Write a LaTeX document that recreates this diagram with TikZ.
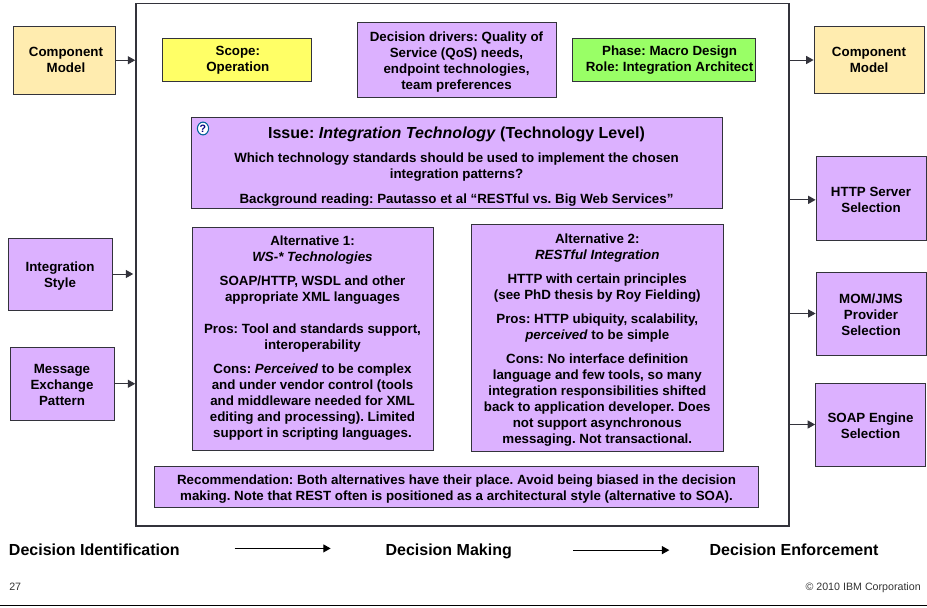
\documentclass[tikz,border=0pt]{standalone}
\usepackage{fontspec}
\setmainfont{Liberation Sans}
\usetikzlibrary{arrows.meta,shapes.geometric}
\frenchspacing
\definecolor{purp}{HTML}{DCB1FF}
\definecolor{yell}{HTML}{FFFF66}
\definecolor{gren}{HTML}{99FF66}
\definecolor{tann}{HTML}{FFECAF}
\definecolor{edge}{HTML}{33333B}
\newcommand{\bx}[7]{%
  \pgfmathsetmacro{\bxCx}{(#3+#5)/2}\pgfmathsetmacro{\bxCy}{(#4+#6)/2}%
  \pgfmathsetmacro{\bxW}{0.75*(#5-#3)}\pgfmathsetmacro{\bxH}{0.75*(#6-#4)}%
  \node[boxbase,#2,minimum width=\bxW pt,minimum height=\bxH pt] (#1) at (\bxCx,\bxCy) {#7};}
\newcommand{\dn}[1]{\rule{0pt}{#1}}
\tikzset{
  boxbase/.style={draw=edge,line width=0.65pt,inner sep=0pt,align=center,
    font=\fontsize{10}{12}\selectfont\bfseries},
  purplebox/.style={fill=purp},
  yellowbox/.style={fill=yell},
  greenbox/.style={fill=gren},
  tanbox/.style={fill=tann},
  frameline/.style={draw=edge,line width=1.2pt,fill=none},
  flow/.style={draw=edge,line width=0.75pt,-{Triangle[length=5.5pt,width=6pt]}},
  steplabel/.style={anchor=base west,inner sep=0pt,text depth=0pt,font=\fontsize{12}{14}\selectfont\bfseries},
  foot/.style={inner sep=0pt,font=\fontsize{8}{9}\selectfont,text=black!80},
  helpicon/.style={ellipse,draw=blue!35!cyan!60!black,line width=0.8pt,fill=white,inner sep=0pt,
    minimum width=8.4pt,minimum height=9.6pt,font=\fontsize{8}{8}\selectfont\bfseries,text=blue!50!black},
}
\begin{document}
\begin{tikzpicture}[x=0.75pt,y=-0.75pt]
\useasboundingbox (0,0) rectangle (927,607);
\bx{frame}{frameline}{136}{3.5}{788.7}{525.7}{}
\bx{cmin}{tanbox}{13}{26.5}{115}{94}{\hspace*{3pt}Component\\\hspace*{3pt}Model}
\bx{style}{purplebox}{8}{238}{112}{310}{\dn{10.3pt}Integration\\Style}
\bx{mep}{purplebox}{10}{347.5}{114}{420}{\dn{9pt}Message\\Exchange\\Pattern}
\bx{scope}{yellowbox}{162}{38.5}{311}{81}{\hspace*{2pt}Scope:\\\hspace*{2pt}Operation}
\bx{drivers}{purplebox}{357}{22.5}{556}{97}{\dn{10.3pt}Decision drivers: Quality of\\Service (QoS) needs,\\endpoint technologies,\\team preferences}
\bx{phase}{greenbox}{572.7}{38.5}{755.7}{81}{\hspace*{8pt}Phase: Macro Design\\\hspace*{8pt}Role: Integration Architect}
\bx{issue}{purplebox}{191}{117}{722}{208.5}{{\fontsize{12}{14}\selectfont\dn{14.5pt}Issue: \textit{Integration Technology} (Technology Level)}\\[5.75pt]Which technology standards should be used to implement the chosen\\integration patterns?\\[6.75pt]Background reading: Pautasso et al “RESTful vs. Big Web Services”}
\bx{altone}{purplebox}{192}{227}{433}{450}{Alternative 1:\\\textit{WS-* Technologies}\\[6pt]SOAP/HTTP, WSDL and other\\appropriate XML languages\\[12pt]Pros: Tool and standards support,\\interoperability\\[6pt]Cons: \textit{Perceived} to be complex\\and under vendor control (tools\\and middleware needed for XML\\editing and processing). Limited\\support in scripting languages.}
\bx{alttwo}{purplebox}{471}{224}{723.5}{451.5}{\dn{10.3pt}Alternative 2:\\\textit{RESTful Integration}\\[6pt]HTTP with certain principles\\(see PhD thesis by Roy Fielding)\\[6pt]Pros: HTTP ubiquity, scalability,\\\textit{perceived} to be simple\\[6pt]Cons: No interface definition\\language and few tools, so many\\integration responsibilities shifted\\back to application developer. Does\\not support asynchronous\\messaging. Not transactional.}
\bx{rec}{purplebox}{154.5}{466}{758.5}{507.5}{\dn{10.3pt}Recommendation: Both alternatives have their place. Avoid being biased in the decision\\making. Note that REST often is positioned as a architectural style (alternative to SOA).}
\bx{cmout}{tanbox}{814}{26.5}{924}{93.5}{Component\\Model}
\bx{http}{purplebox}{816}{156.5}{926}{240}{\dn{9pt}HTTP Server\\Selection}
\bx{mom}{purplebox}{816}{272}{926}{355}{\dn{9pt}MOM/JMS\\Provider\\Selection}
\bx{soap}{purplebox}{815.5}{383}{925.5}{466}{\dn{9pt}SOAP Engine\\Selection}
\node[helpicon] (help) at (203,128.5) {?};
\draw[flow] (cmin.east) -- (cmin.east -| frame.west);
\draw[flow,shorten >=1.5pt] (style.east) -- (style.east -| frame.west);
\draw[flow] (mep.east) -- (mep.east -| frame.west);
\draw[flow] (frame.east |- cmout.west) -- (cmout.west);
\draw[flow] ([yshift=-1.2pt]frame.east |- http.west) -- ([yshift=-1.2pt]http.west);
\draw[flow] (frame.east |- mom.west) -- (mom.west);
\draw[flow] (frame.east |- soap.west) -- (soap.west);
\node[steplabel] (di) at (8.7,555) {Decision Identification};
\node[steplabel] (dm) at (385.3,555) {Decision Making};
\node[steplabel] (de) at (709.3,555) {Decision Enforcement};
\draw[flow,draw=black,shorten <=41pt,shorten >=41pt] ([yshift=0.6pt]di.east) -- ([yshift=0.6pt]dm.west);
\draw[flow,draw=black,shorten <=46pt,shorten >=30pt] ([yshift=-0.7pt]dm.east) -- ([yshift=-0.7pt]de.west);
\node[foot,anchor=west] (pg) at (9,587) {27};
\node[foot,anchor=east] (copy) at (921,588) {© 2010 IBM Corporation};
\coordinate (rulel) at (0,605.3);
\coordinate (ruler) at (927,605.3);
\draw[black,line width=1.1pt] (rulel) -- (ruler);
\end{tikzpicture}
\end{document}
